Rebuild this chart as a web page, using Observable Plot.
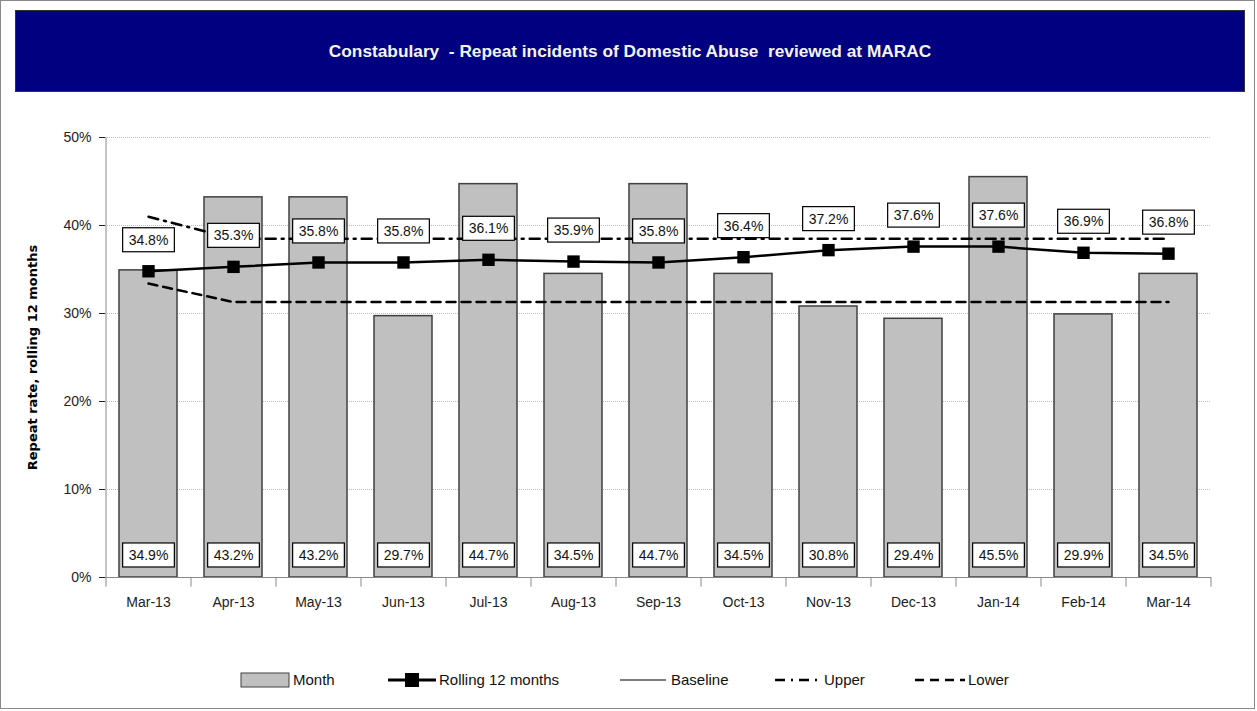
<!DOCTYPE html>
<html><head><meta charset="utf-8">
<script src="https://cdn.jsdelivr.net/npm/d3@7"></script>
<script src="https://cdn.jsdelivr.net/npm/@observablehq/plot@0.6"></script>
<style>
body{margin:0;background:#fff;font-family:"Liberation Sans",Arial,sans-serif;}
#frame{position:absolute;left:0;top:0;width:1253px;height:707px;border:1px solid #8a8a8a;background:#fff;}
#title{position:absolute;left:15px;top:10px;width:1228px;height:80px;background:#000080;border:1px solid #333;color:#f4f4f4;
 font-family:"Liberation Sans",Arial,sans-serif;font-size:17.3px;font-weight:bold;display:flex;align-items:center;justify-content:center;}
#chart{position:absolute;left:0;top:100px;}
.leg{position:absolute;top:671px;display:flex;align-items:center;font-size:15px;color:#111;font-family:"Liberation Sans",sans-serif;}
.leg svg{margin-right:3px;}
</style></head>
<body>
<div id="frame"></div>
<div id="title">Constabulary&nbsp; - Repeat incidents of Domestic Abuse&nbsp; reviewed at MARAC</div>
<div id="chart"></div>
<div class="leg" style="left:240px"><svg width="50" height="16"><rect x="1" y="1" width="48" height="14" fill="#c0c0c0" stroke="#404040"/></svg>Month</div>
<div class="leg" style="left:388px"><svg width="48" height="16"><line x1="0" y1="8" x2="48" y2="8" stroke="#000" stroke-width="3"/><rect x="17" y="1" width="14" height="14" fill="#000"/></svg>Rolling 12 months</div>
<div class="leg" style="left:620px"><svg width="48" height="16"><line x1="0" y1="8" x2="46" y2="8" stroke="#000" stroke-width="1.2"/></svg>Baseline</div>
<div class="leg" style="left:775px"><svg width="46" height="16"><line x1="0" y1="8" x2="44" y2="8" stroke="#000" stroke-width="2.5" stroke-dasharray="10,6,2,6"/></svg>Upper</div>
<div class="leg" style="left:915px"><svg width="50" height="16"><line x1="0" y1="8" x2="50" y2="8" stroke="#000" stroke-width="2.5" stroke-dasharray="9,6"/></svg>Lower</div>
<script>
const months = ["Mar-13","Apr-13","May-13","Jun-13","Jul-13","Aug-13","Sep-13","Oct-13","Nov-13","Dec-13","Jan-14","Feb-14","Mar-14"];
const monthRate = [34.9,43.2,43.2,29.7,44.7,34.5,44.7,34.5,30.8,29.4,45.5,29.9,34.5];
const rolling = [34.8,35.3,35.8,35.8,36.1,35.9,35.8,36.4,37.2,37.6,37.6,36.9,36.8];
const upper = [41.0,38.5,38.5,38.5,38.5,38.5,38.5,38.5,38.5,38.5,38.5,38.5,38.5];
const lower = [33.4,31.3,31.3,31.3,31.3,31.3,31.3,31.3,31.3,31.3,31.3,31.3,31.3];
const yTicks = [0,10,20,30,40,50];

const data = months.map((m,i)=>({m, month:monthRate[i], roll:rolling[i], up:upper[i], lo:lower[i]}));
const fmt = v => v.toFixed(1) + "%";

const plot = Plot.plot({
  width:1257, height:540,
  marginLeft:105, marginRight:46, marginTop:37, marginBottom:63,
  style:{fontFamily:"Liberation Sans, Arial, sans-serif", fontSize:"14px", color:"#222", background:"transparent"},
  x:{domain:months, paddingInner:0.32, paddingOuter:0.16, label:null, tickSize:0, tickPadding:20},
  y:{domain:[0,50], ticks:yTicks, tickFormat:d=>d+"%", label:null, tickSize:6, tickPadding:8},
  marks:[
    Plot.gridY(yTicks,{stroke:"#bdbdbd", strokeOpacity:1, strokeDasharray:"1,1"}),
    Plot.barY(data,{x:"m", y:"month", fill:"#c0c0c0", stroke:"#404040", strokeWidth:1.5}),
    Plot.ruleY([0],{stroke:"#888"}),
    Plot.ruleX(data,{x:"m", y1:0, y2:-1.1, dx:-42.5, stroke:"#888"}),
    Plot.ruleX([months[12]],{x:d=>d, y1:0, y2:-1.1, dx:42.5, stroke:"#888"}),
    Plot.ruleX([months[0]],{x:d=>d, y1:0, y2:50, dx:-42.5, stroke:"#888"}),
    Plot.lineY(data,{x:"m", y:"lo", stroke:"#000", strokeWidth:2.5, strokeDasharray:"9,6"}),
    Plot.lineY(data,{x:"m", y:"up", stroke:"#000", strokeWidth:2.5, strokeDasharray:"10,6,2,6"}),
    Plot.lineY(data,{x:"m", y:"roll", stroke:"#000", strokeWidth:2.5}),
    Plot.dot(data,{x:"m", y:"roll", symbol:"square", r:7, fill:"#000"}),
    Plot.text(data,{x:"m", y:"roll", text:d=>fmt(d.roll), dy:-31, fill:"#111", fontSize:14}),
    Plot.text(data,{x:"m", y:()=>2.5, text:d=>fmt(d.month), fill:"#111", fontSize:14}),
    Plot.text(["Repeat rate, rolling 12 months"],{frameAnchor:"left", dx:-73, rotate:-90, textAnchor:"middle", fontWeight:"bold", fontSize:13, fontFamily:"DejaVu Sans, Verdana, sans-serif", fill:"#000"})
  ]
});
document.getElementById("chart").appendChild(plot);

// white boxed labels behind data label texts
const svg = d3.select(plot);
svg.selectAll('g[aria-label="text"]').each(function(){
  const g = d3.select(this);
  const texts = g.selectAll("text").nodes();
  if (texts.length !== months.length) return;
  texts.forEach(t=>{
    const b = t.getBBox();
    const tr = t.getAttribute("transform");
    const r = document.createElementNS("http://www.w3.org/2000/svg","rect");
    r.setAttribute("x", b.x-6); r.setAttribute("y", b.y-4);
    r.setAttribute("width", b.width+12); r.setAttribute("height", b.height+8);
    r.setAttribute("fill","#fff"); r.setAttribute("stroke","#000"); r.setAttribute("stroke-width","1.2");
    if (tr) r.setAttribute("transform", tr);
    t.parentNode.insertBefore(r, t);
  });
});
</script>
</body></html>
